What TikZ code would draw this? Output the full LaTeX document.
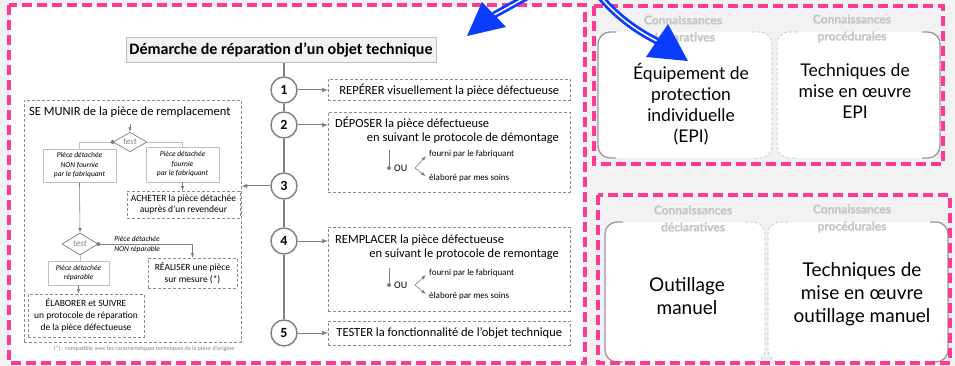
\documentclass[tikz,border=0pt]{standalone}
\usepackage{fontspec}
\setmainfont{Carlito}
\newfontfamily\avenir{Lato}
\newfontfamily\avenirgras{Lato}[FakeBold=1.2]
\usetikzlibrary{calc, arrows.meta, shapes.geometric, positioning}
\definecolor{fondgris}{HTML}{F2F2F2}
\definecolor{rose}{HTML}{FF3A96}
\definecolor{trait}{HTML}{7F7F7F}
\definecolor{tirets}{HTML}{8C8C8C}
\definecolor{clair}{HTML}{BFBFBF}
\definecolor{note}{HTML}{A6A6A6}
\definecolor{etiq}{HTML}{C6C6C6}
\definecolor{bleu}{HTML}{0A3CFF}
\tikzset{>=latex,
  cadre/.style={draw=rose, line width=3.4pt, dash pattern=on 10pt off 5pt},
  titre/.style={draw=clair, fill=fondgris, minimum width=310pt, minimum height=25pt, font=\bfseries\fontsize{16}{18}\selectfont},
  etape/.style={circle, draw=trait, line width=1.4pt, fill=white, minimum size=26pt, inner sep=0pt, font=\bfseries\fontsize{14}{14}\selectfont},
  action/.style={draw=tirets, densely dashed, line width=0.6pt, fill=white, inner sep=0pt, align=center},
  piece/.style={draw=clair, line width=0.6pt, fill=white, inner sep=0pt, align=center, font=\itshape\fontsize{7.5}{9.5}\selectfont},
  losange/.style={diamond, draw=trait, line width=0.7pt, fill=white, inner sep=0pt, text=trait, font=\itshape\fontsize{9}{9}\selectfont},
  lien/.style={draw=trait, line width=1.4pt},
  lien2/.style={draw=clair, line width=0.8pt},
  fleche/.style={draw=trait, line width=1pt, ->},
  fin/.style={draw=trait, line width=0.6pt, ->},
  bord/.style={draw=trait!80, line width=1.3pt, rounded corners=12pt},
  bordpt/.style={draw=clair, line width=0.6pt, densely dashed, rounded corners=12pt},
  etiquette/.style={align=center, text=etiq, font=\avenirgras\bfseries\fontsize{12}{17}\selectfont},
  savoir/.style={align=center, font=\avenir\fontsize{17.5}{21}\selectfont},
  savoirb/.style={align=center, font=\avenir\fontsize{19}{23}\selectfont},
  trou/.style={circle, fill=trait, inner sep=0pt, minimum size=4pt}}
\newcommand\fgrand{\fontsize{12.5}{15}\selectfont}
\newcommand\fmoyen{\fontsize{9.5}{12}\selectfont}
\newcommand\fpetit{\fontsize{9}{11}\selectfont}

\begin{document}
\begin{tikzpicture}[x=1pt, y=-1pt]
\clip (0,0) rectangle (955,366);
\fill[fondgris] (0,0) rectangle (955,366);
\draw[cadre, fill=white] (9,5) rectangle (585,363);
\draw[cadre] (594,6) rectangle (943,164);

% demarche
\node[titre] (titre) at (281,50) {Démarche de réparation d’un objet technique};
\foreach \n/\y in {1/90, 2/125, 3/186, 4/241, 5/333}
  \node[etape] (c\n) at (284,\y) {\n};
\draw[lien] (titre.south -| c1) -- (c1) -- (c2) -- (c3) -- (c4) -- (c5);

\node[action, minimum width=242pt, minimum height=21pt, anchor=west, font=\fgrand] (b1) at (328,90) {REPÉRER visuellement la pièce défectueuse};

\node[action, minimum width=242pt, minimum height=80pt, anchor=north west] (b2) at (328,112) {};
\node[anchor=west, inner sep=0pt, font=\fgrand] (b2a) at (335,123) {DÉPOSER la pièce défectueuse};
\node[anchor=east, inner sep=0pt, font=\fgrand] (b2b) at (559,138) {en suivant le protocole de démontage};
\coordinate (b2h) at (389,150);
\node[trou] (b2p) at (389,168) {};
\node[anchor=west, inner sep=1pt, font=\fontsize{10}{10}\selectfont] (b2ou) at (393,168) {OU};
\coordinate (b2f) at (415,168);
\node[anchor=west, inner sep=1pt, font=\fpetit] (b2f1) at (428,154) {fourni par le fabriquant};
\node[anchor=west, inner sep=1pt, font=\fpetit] (b2f2) at (428,178) {élaboré par mes soins};
\draw[trait, line width=0.6pt] (b2h) -- (b2p);
\draw[fin, shorten >=3pt] (b2f) -- (b2f1.west);
\draw[fin, shorten >=3pt] (b2f) -- (b2f2.west);

\node[action, minimum width=242pt, minimum height=84pt, anchor=north west] (b4) at (328,227) {};
\node[anchor=west, inner sep=0pt, font=\fgrand] (b4a) at (335,240) {REMPLACER la pièce défectueuse};
\node[anchor=east, inner sep=0pt, font=\fgrand] (b4b) at (559,254) {en suivant le protocole de remontage};
\coordinate (b4h) at (389,268);
\node[trou] (b4p) at (389,285) {};
\node[anchor=west, inner sep=1pt, font=\fontsize{10}{10}\selectfont] (b4ou) at (393,285) {OU};
\coordinate (b4f) at (415,285);
\node[anchor=west, inner sep=1pt, font=\fpetit] (b4f1) at (428,273) {fourni par le fabriquant};
\node[anchor=west, inner sep=1pt, font=\fpetit] (b4f2) at (428,296) {élaboré par mes soins};
\draw[trait, line width=0.6pt] (b4h) -- (b4p);
\draw[fin, shorten >=3pt] (b4f) -- (b4f1.west);
\draw[fin, shorten >=3pt] (b4f) -- (b4f2.west);

\node[action, minimum width=242pt, minimum height=24pt, anchor=west, font=\fgrand] (b5) at (328,333) {TESTER la fonctionnalité de l’objet technique};

% se munir de la piece
\node[action, minimum width=217pt, minimum height=242pt, anchor=north west] (gauche) at (24,100) {};
\node[anchor=west, inner sep=0pt, font=\fgrand] (munir) at (29,112) {SE MUNIR de la pièce de remplacement};
\node[losange, minimum width=34pt, minimum height=19pt] (test1) at (130,142) {test};
\node[piece, minimum width=73pt, minimum height=33pt] (nonfournie) at (79.5,165.5) {Pièce détachée\\NON fournie\\par le fabriquant};
\node[piece, minimum width=73pt, minimum height=35pt] (fournie) at (182.5,164.5) {Pièce détachée\\fournie\\par le fabriquant};
\node[action, minimum width=113pt, minimum height=27pt, font=\fontsize{9.5}{11}\selectfont] (achat) at (183.5,204.5) {ACHETER la pièce détachée\\auprès d’un revendeur};
\node[losange, minimum width=36pt, minimum height=22pt] (test2) at (80,244) {test};
\node[piece, anchor=south west, draw=none, fill=none] (nonrep1) at (114,242) {Pièce détachée};
\node[piece, anchor=north west, draw=none, fill=none] (nonrep2) at (114,246) {NON réparable};
\node[action, minimum width=89pt, minimum height=30pt, font=\fmoyen] (realiser) at (192.5,273) {RÉALISER une pièce\\sur mesure (*)};
\node[piece, minimum width=61pt, minimum height=24pt] (reparable) at (78.5,273) {Pièce détachée\\réparable};
\node[action, minimum width=116pt, minimum height=43pt, font=\fmoyen] (elaborer) at (86,315.5) {ÉLABORER et SUIVRE\\un protocole de réparation\\de la pièce défectueuse};
\node[text=note, font=\bfseries\fontsize{6}{6}\selectfont] (renvoi) at (144,349) {(*) : compatible avec les caractéristiques techniques de la pièce d’origine};

\draw[fin, shorten <=6pt] (munir.south -| test1) -- (test1);
\draw[lien2] (test1.west) -| (nonfournie.north);
\draw[lien2] (test1.east) -| (fournie.north);
\fill[trait] (test1.west) circle (2pt);
\draw[fin] (fournie.south) -- (fournie.south |- achat.north);
\draw[fin] (nonfournie.south) -- (test2.north);
\draw[fin] (test2.east) -| (realiser.north);
\fill[trait] (test2.east) circle (2pt);
\draw[lien2] (test2.south) -- (test2.south |- reparable.north);
\draw[fin] (reparable.south) -- (reparable.south |- elaborer.north);

% fleches des etapes
\draw[fleche] (c1) -- (b1);
\draw[fleche] (c2) -- (c2 -| b2.west);
\draw[fleche] (c3) -- (c3 -| gauche.east);
\draw[fleche] (c4) -- (c4 -| b4.west);
\draw[fleche] (c5) -- (b5);

% connaissances EPI
\fill[white, rounded corners=12pt] (598,32) rectangle (772,158);
\fill[white, rounded corners=12pt] (777,32) rectangle (940,158);
\draw[bord] (616,32) -- (598,32) -- (598,158) -- (616,158);
\draw[bordpt] (752,32) -- (772,32) -- (772,158) -- (752,158);
\draw[bordpt] (797,32) -- (777,32) -- (777,158) -- (797,158);
\draw[bord] (922,32) -- (940,32) -- (940,158) -- (922,158);
\node[etiquette] (decl1) at (683,28.5) {Connaissances\\déclaratives};
\node[etiquette] (proc1) at (852,28.5) {Connaissances\\procédurales};
\node[savoir] (epi) at (691,104) {Équipement de\\protection\\individuelle\\(EPI)};
\node[savoir] (techepi) at (855,91) {Techniques de\\mise en œuvre\\EPI};

% connaissances outillage
\fill[white, rounded corners=12pt] (605,222) rectangle (765,362);
\fill[white, rounded corners=12pt] (768,222) rectangle (948,362);
\draw[bord] (623,222) -- (605,222) -- (605,362) -- (623,362);
\draw[bordpt] (745,222) -- (765,222) -- (765,362) -- (745,362);
\draw[bordpt] (788,222) -- (768,222) -- (768,362) -- (788,362);
\draw[bord] (930,222) -- (948,222) -- (948,362) -- (930,362);
\node[etiquette] (decl2) at (693,218.5) {Connaissances\\déclaratives};
\node[etiquette] (proc2) at (852,218.5) {Connaissances\\procédurales};
\node[savoirb] (outil) at (687,296) {Outillage\\manuel};
\node[savoirb] (techoutil) at (862,294) {Techniques de\\mise en œuvre\\outillage manuel};
\draw[cadre] (598,195) rectangle (950,363);

% fleches bleues
\draw[bleu, line width=7pt] (532,-6) -- (494,15);
\draw[white, line width=1.5pt] (532,-6) -- (494,15);
\fill[bleu] (467,36) -- (482,2) -- (506,27) -- cycle;
\draw[bleu, line width=7pt] (598,-6) .. controls (615,15) and (635,30) .. (657,41);
\draw[white, line width=1.5pt] (598,-6) .. controls (615,15) and (635,30) .. (657,41);
\fill[bleu] (688,61) -- (646,57) -- (668,24) -- cycle;
\end{tikzpicture}
\end{document}
